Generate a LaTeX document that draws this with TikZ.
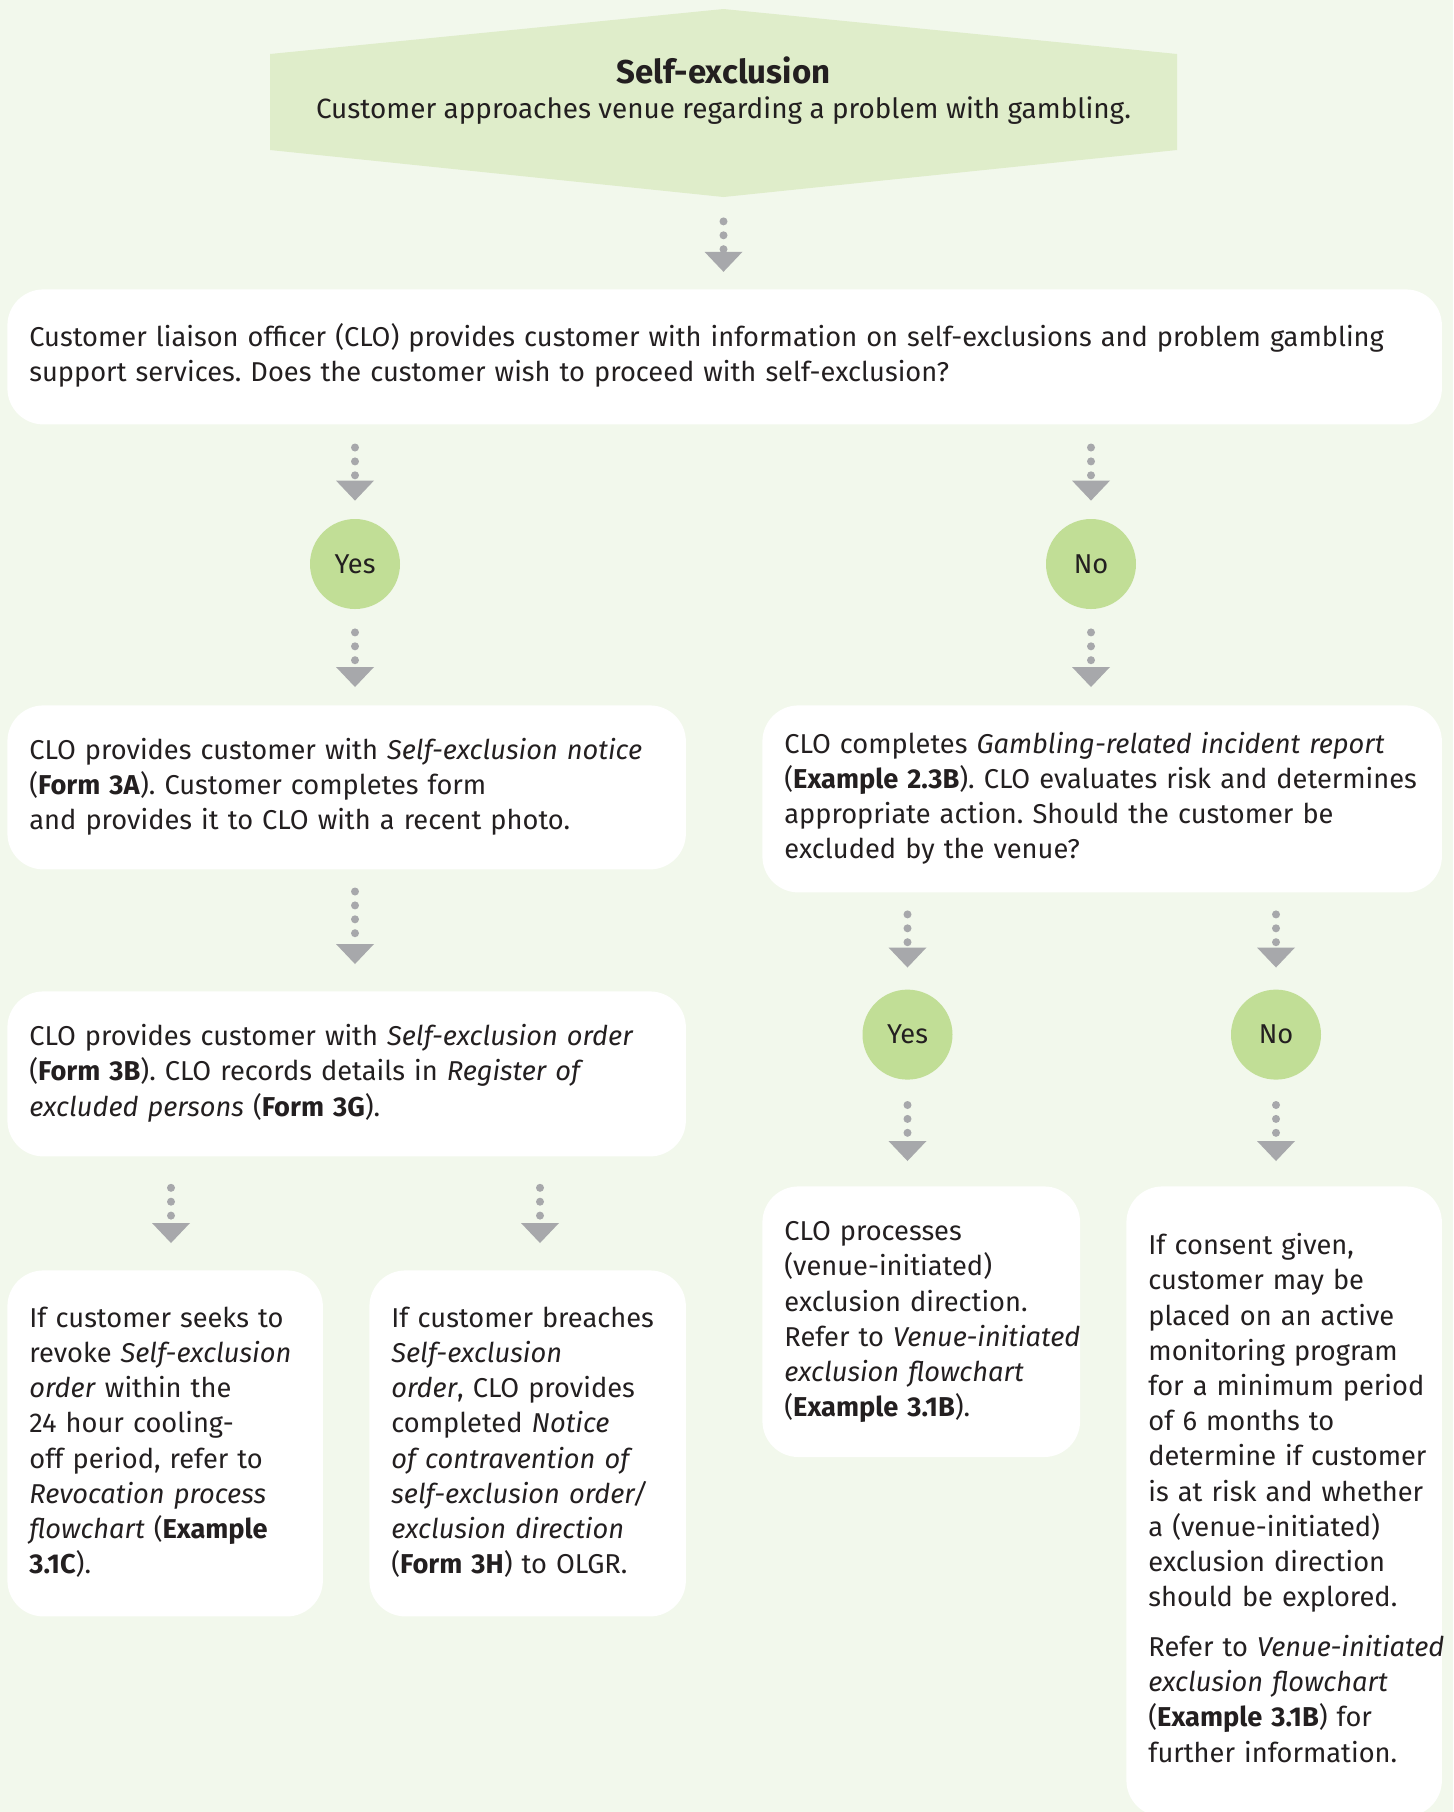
\documentclass[tikz,border=0pt]{standalone}
\usepackage{fontspec}
\IfFontExistsTF{FiraSans-Light.otf}
  {\setmainfont{FiraSans}[Extension=.otf, UprightFont=*-Light, ItalicFont=*-LightItalic, BoldFont=*-Medium, BoldItalicFont=*-MediumItalic]}
  {\setmainfont{Fira Sans}}
\usetikzlibrary{arrows.meta}
\definecolor{pagegreen}{HTML}{F2F8EC}
\definecolor{bannergreen}{HTML}{DFEDCA}
\definecolor{answergreen}{HTML}{C1DE96}
\definecolor{flowgray}{HTML}{A7A8AB}
\definecolor{inkgray}{HTML}{231F20}
\newcommand{\cardlines}[1]{\noindent\begin{tabular}{@{}l@{}}#1\end{tabular}}
\frenchspacing

\begin{document}
\begin{tikzpicture}[x=0.5pt,y=-0.5pt, every node/.style={text=inkgray, font=\fontsize{13.62}{17.6}\selectfont},
  card/.style={fill=white, rounded corners=18pt, anchor=north west, inner xsep=11pt, inner ysep=0pt, align=left},
  answer/.style={circle, fill=answergreen, minimum size=45pt, inner sep=0pt},
  flow/.style 2 args={flowgray, line width=4pt, line cap=round, dash pattern=on 0pt off 6.95pt,
    shorten <=#1, shorten >=#2, -{Triangle[width=19pt,length=10pt,line width=0pt]}}]
\useasboundingbox (0,0) rectangle (1453,1812);
\fill[pagegreen] (0,0) rectangle (1453,1812);
\fill[bannergreen] (723.5,9) -- (1177,54) -- (1177,150) -- (723.5,197) -- (270,150) -- (270,54) -- cycle;
\coordinate (bannertip) at (723.5,197);
\node[anchor=base, font=\fontsize{16.5}{18}\selectfont\bfseries] (approachtitle) at (723.5,83) {Self-exclusion};
\node[anchor=base, font=\fontsize{13.95}{18}\selectfont] (approach) at (723.5,118) {Customer approaches venue regarding a problem with gambling.};

\node[card, minimum width=717.25pt, minimum height=67.5pt, text width=695.25pt] (infobox) at (7,289)
  {\cardlines{Customer liaison officer (CLO) provides customer with information on self-exclusions and problem gambling\\
  support services. Does the customer wish to proceed with self-exclusion?}};
\node[answer] (wishyes) at (355,564) {Yes};
\node[answer] (wishno) at (1091,564) {No};

\node[card, minimum width=339.25pt, minimum height=82pt, text width=317.25pt] (noticebox) at (7,705)
  {\cardlines{CLO provides customer with \textit{Self-exclusion notice}\\
  (\textbf{Form 3A}). Customer completes form\\
  and provides it to CLO with a recent photo.}};
\node[card, minimum width=339.75pt, minimum height=93.5pt, text width=317.75pt] (reportbox) at (762,705)
  {\cardlines{CLO completes \textit{Gambling-related incident report}\\
  (\textbf{Example 2.3B}). CLO evaluates risk and determines\\
  appropriate action. Should the customer be\\
  excluded by the venue?}};
\node[card, minimum width=339.25pt, minimum height=82.5pt, text width=317.25pt] (orderbox) at (7,991)
  {\cardlines{CLO provides customer with \textit{Self-exclusion order}\\
  (\textbf{Form 3B}). CLO records details in \textit{Register of}\\
  \textit{excluded persons} (\textbf{Form 3G}).}};
\node[answer] (excludeyes) at (907.5,1034.6) {Yes};
\node[answer] (excludeno) at (1276,1034.6) {No};

\node[card, minimum width=157.75pt, minimum height=173pt, text width=135.75pt] (revokebox) at (7,1270)
  {\cardlines{If customer seeks to\\
  revoke \textit{Self-exclusion}\\
  \textit{order} within the\\
  24 hour cooling-\\
  off period, refer to\\
  \textit{Revocation process}\\
  \textit{flowchart} (\textbf{Example}\\
  \textbf{3.1C}).}};
\node[card, minimum width=158.25pt, minimum height=173pt, text width=136.25pt] (breachbox) at (369,1270)
  {\cardlines{If customer breaches\\
  \textit{Self-exclusion}\\
  \textit{order}, CLO provides\\
  completed \textit{Notice}\\
  \textit{of contravention of}\\
  \textit{self-exclusion order/}\\
  \textit{exclusion direction}\\
  (\textbf{Form 3H}) to OLGR.}};
\node[card, minimum width=158.85pt, minimum height=135.3pt, text width=136.85pt] (directionbox) at (762,1186)
  {\cardlines{CLO processes\\
  (venue-initiated)\\
  exclusion direction.\\
  Refer to \textit{Venue-initiated}\\
  \textit{exclusion flowchart}\\
  (\textbf{Example 3.1B}).}};
\node[card, minimum width=157.75pt, minimum height=315pt, text width=135.75pt] (monitorbox) at (1126,1186)
  {\cardlines{If consent given,\\
  customer may be\\
  placed on an active\\
  monitoring program\\
  for a minimum period\\
  of 6 months to\\
  determine if customer\\
  is at risk and whether\\
  a (venue-initiated)\\
  exclusion direction\\
  should be explored.\\[7.3pt]
  Refer to \textit{Venue-initiated}\\
  \textit{exclusion flowchart}\\
  (\textbf{Example 3.1B}) for\\
  further information.}};

\coordinate (revokeflow) at (171,1156);
\coordinate (breachflow) at (540,1156);
\draw[flow={12.2pt}{8.6pt}] (bannertip) -- (bannertip |- infobox.north);
\draw[flow={11.35pt}{9pt}] (infobox.south -| wishyes) -- (wishyes.north);
\draw[flow={11.35pt}{9pt}] (infobox.south -| wishno) -- (wishno.north);
\draw[flow={11.5pt}{9pt}] (wishyes.south) -- (wishyes |- noticebox.north);
\draw[flow={11.5pt}{9pt}] (wishno.south) -- (wishno |- reportbox.north);
\draw[flow={10.85pt}{13.5pt}] (noticebox.south -| wishyes) -- (wishyes |- orderbox.north);
\draw[flow={10.8pt}{10.85pt}] (reportbox.south -| excludeyes) -- (excludeyes.north);
\draw[flow={10.8pt}{10.85pt}] (reportbox.south -| excludeno) -- (excludeno.north);
\draw[flow={12.5pt}{12.5pt}] (excludeyes.south) -- (excludeyes |- directionbox.north);
\draw[flow={12.5pt}{12.5pt}] (excludeno.south) -- (excludeno |- monitorbox.north);
\draw[flow={15.5pt}{13.5pt}] (orderbox.south -| revokeflow) -- (revokeflow |- revokebox.north);
\draw[flow={15.5pt}{13.5pt}] (orderbox.south -| breachflow) -- (breachflow |- breachbox.north);
\end{tikzpicture}
\end{document}
